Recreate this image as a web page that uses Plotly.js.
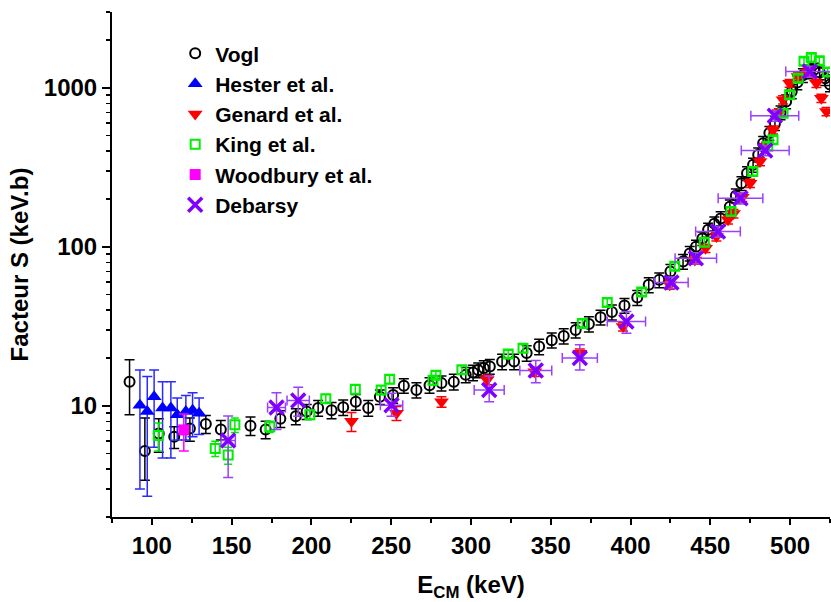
<!DOCTYPE html>
<html>
<head>
<meta charset="utf-8">
<script src="https://cdn.plot.ly/plotly-3.0.1.min.js"></script>
<style>html,body{margin:0;padding:0;background:#fff;}#chart{width:831px;height:602px;}</style>
</head>
<body>
<div id="chart"></div>
<script>
// ---------- Data ----------
const voglE = [86, 95.6, 104.3, 114, 123.8, 133.8, 143.2, 161.8, 171.3, 180.5, 190.2, 197, 204.2, 212.6, 219.9, 227.8, 235.6, 242.9, 251.2, 257.9, 265.8, 274, 281.5, 289.2, 296.7, 301.3, 304.5, 308, 311.8, 319.5, 327, 334.9, 342.7, 350.6, 358.1, 365.6, 373.9, 381.2, 388.3, 396.2, 404.2, 411.4, 418, 425, 432.9, 437.1, 441, 445, 448.6, 452.5, 456.5, 462.2, 466, 469.5, 473, 476.8, 480, 483.1, 487, 490.5, 494, 497.5, 501, 504.5, 508, 511.5, 515, 518.5, 522, 525];
const voglS = [14.2, 5.2, 6.7, 6.4, 7.2, 7.7, 7.1, 7.5, 7.1, 8.3, 8.6, 9.2, 9.7, 9.4, 9.8, 10.6, 9.7, 11.4, 11.7, 13.4, 12.6, 13.5, 13.9, 14.2, 15.7, 16.2, 16.8, 17.3, 17.7, 19.0, 19.0, 21.5, 23.6, 25.9, 27.5, 30.0, 32.7, 36.1, 38.9, 42.8, 48, 57.7, 62, 70, 81, 91, 100, 113, 128, 140, 151, 179, 210, 251, 290, 328, 380, 449, 520, 600, 700, 820, 950, 1080, 1200, 1270, 1300, 1250, 1150, 1050];
const voglErrUp = [5.3, 3.2, 1.6, 1.0, 1.2, 1.0, 1.0, 1.0, 0.9, 1.0, 1.0, 1.0, 1.1, 1.1, 1.1, 1.2, 1.1, 1.2, 1.3, 1.4, 1.4, 1.5, 1.5, 1.6, 1.7, 1.8, 1.8, 1.9, 1.9, 2.1, 2.1, 2.4, 2.6, 2.8, 3.0, 3.3, 3.6, 3.9, 4.2, 4.6, 5.2, 6.2, 6.6, 7.5, 8.6, 9.5, 10, 11, 13, 14, 15, 18, 21, 25, 29, 33, 38, 45, 52, 60, 70, 82, 95, 108, 120, 127, 130, 125, 115, 105];
const voglErrDn = [5.4, 1.8, 1.6, 1.0, 1.2, 1.0, 1.0, 1.0, 0.9, 1.0, 1.0, 1.0, 1.1, 1.1, 1.1, 1.2, 1.1, 1.2, 1.3, 1.4, 1.4, 1.5, 1.5, 1.6, 1.7, 1.8, 1.8, 1.9, 1.9, 2.1, 2.1, 2.4, 2.6, 2.8, 3.0, 3.3, 3.6, 3.9, 4.2, 4.6, 5.2, 6.2, 6.6, 7.5, 8.6, 9.5, 10, 11, 13, 14, 15, 18, 21, 25, 29, 33, 38, 45, 52, 60, 70, 82, 95, 108, 120, 127, 130, 125, 115, 105];

const hesterE = [92.5, 97.1, 101.4, 106.7, 111.9, 115.9, 121.3, 125.5, 129.6];
const hesterS = [10.1, 9.2, 11.4, 9.7, 9.7, 8.8, 9.2, 9.4, 9.0];
const hesterErrUp = [6.7, 6.1, 5.4, 4.5, 4.5, 2.4, 2.4, 2.7, 2.2];
const hesterErrDn = [7.1, 6.5, 5.9, 5.0, 5.0, 2.7, 3.1, 3.0, 2.4];

const genardE = [225.1, 253.3, 281.5, 310.1, 340, 368.2, 395.3, 424.6, 440.3, 447, 453.8, 461.1, 464.5, 470, 474.9, 481.1, 485, 489.3, 493, 495.6, 499.7, 505, 511, 516.5, 519.6, 522.8];
const genardS = [8.0, 9.0, 10.6, 14.6, 16.4, 21.4, 31.6, 57.7, 82.8, 98, 116, 148, 162, 205, 251, 344, 430, 544, 700, 841, 1070, 1180, 1260, 1070, 860, 710];
const genardErr = [1.1, 0.9, 0.8, 1.0, 1.1, 1.4, 2.0, 3.5, 5, 6, 7, 9, 10, 12, 15, 20, 25, 32, 40, 50, 60, 70, 75, 64, 52, 43];

const kingE = [104, 139.7, 147.8, 152, 173.9, 199, 209, 227.5, 243.7, 249, 276.2, 278, 294.3, 323.3, 332.6, 369.8, 385.4, 407, 427.7, 446.2, 463, 476.6, 486, 489.3, 495.6, 499.7, 505, 508.7, 513.3, 518.3, 523.5];
const kingS = [6.5, 5.4, 4.9, 7.6, 7.4, 8.8, 11.1, 12.7, 12.6, 14.7, 14.5, 15.6, 16.9, 21.2, 23.0, 33.0, 44.7, 52, 75.5, 107, 167, 298, 430, 471, 692, 904, 1150, 1470, 1550, 1480, 1260];
const kingErr = [1.3, 0.6, 0.6, 0.8, 0.6, 0.6, 0.7, 0.8, 0.8, 0.9, 0.9, 0.9, 1.0, 1.2, 1.3, 1.8, 2.4, 2.8, 4, 6, 9, 16, 23, 25, 37, 48, 61, 78, 82, 78, 67];

const woodE = [120];
const woodS = [7.06];
const woodErrUp = [1.84];
const woodErrDn = [1.86];

const debE = [147.8, 178.1, 191.7, 250.2, 311.4, 340.6, 368.2, 397.4, 425.6, 440.9, 454.8, 468.9, 484.4, 490.4, 512.3];
const debS = [6.05, 9.75, 10.8, 10.1, 12.6, 16.7, 20.0, 33.9, 59.7, 84.9, 125, 202, 404, 667, 1268];
const debErrX = [4.5, 5.6, 7, 7, 9.4, 10, 11, 12, 10.5, 13, 14, 14, 15, 15, 15];
const debErrUp = [2.6, 2.35, 2.3, 1.9, 2.8, 2.6, 4.2, 5.3, 5, 7, 10, 16, 30, 50, 100];
const debErrDn = [2.5, 2.65, 2.2, 1.5, 2.0, 2.7, 3.2, 5.3, 5, 7, 10, 16, 30, 50, 100];

const legendNames = ['Vogl', 'Hester et al.', 'Genard et al.', 'King et al.', 'Woodbury et al.', 'Debarsy'];
const xTitle = 'E<sub>CM</sub> (keV)';
const yTitle = 'Facteur S (keV.b)';

// ---------- Traces ----------
const FONT = 'Arial, "Liberation Sans", sans-serif';
const traces = [
  {x: voglE, y: voglS, name: legendNames[0], mode: 'markers', type: 'scatter',
   marker: {symbol: 'circle-open', size: 10, color: 'black', line: {width: 2, color: 'black'}},
   error_y: {type: 'data', symmetric: false, array: voglErrUp, arrayminus: voglErrDn, color: 'black', thickness: 1.5, width: 5}},
  {x: hesterE, y: hesterS, name: legendNames[1], mode: 'markers', type: 'scatter',
   marker: {symbol: 'triangle-up', size: 13, color: '#0000ff'},
   error_y: {type: 'data', symmetric: false, array: hesterErrUp, arrayminus: hesterErrDn, color: '#2a2aff', thickness: 1.5, width: 5}},
  {x: genardE, y: genardS, name: legendNames[2], mode: 'markers', type: 'scatter',
   marker: {symbol: 'triangle-down', size: 13, color: '#ff0000'},
   error_y: {type: 'data', array: genardErr, color: '#ff0000', thickness: 1.5, width: 5}},
  {x: kingE, y: kingS, name: legendNames[3], mode: 'markers', type: 'scatter',
   marker: {symbol: 'square-open', size: 9, color: '#00ee00', line: {width: 2, color: '#00ee00'}},
   error_y: {type: 'data', array: kingErr, color: '#00ee00', thickness: 1.5, width: 4}},
  {x: woodE, y: woodS, name: legendNames[4], mode: 'markers', type: 'scatter',
   marker: {symbol: 'square', size: 11, color: '#ff00ff'},
   error_y: {type: 'data', symmetric: false, array: woodErrUp, arrayminus: woodErrDn, color: '#ff00ff', thickness: 1.5, width: 5}},
  {x: debE, y: debS, name: legendNames[5], mode: 'markers', type: 'scatter',
   marker: {symbol: 'x-thin-open', size: 14, color: '#8000ff', line: {width: 3.5, color: '#8000ff'}},
   error_x: {type: 'data', array: debErrX, color: '#9a40ff', thickness: 1.5, width: 5},
   error_y: {type: 'data', symmetric: false, array: debErrUp, arrayminus: debErrDn, color: '#9a40ff', thickness: 1.5, width: 5}}
];

const tickFont = {family: FONT, size: 24, color: 'black', weight: 'bold'};
const layout = {
  width: 831, height: 602,
  margin: {l: 112, r: 1, t: 12, b: 85},
  paper_bgcolor: 'white', plot_bgcolor: 'white',
  showlegend: true,
  legend: {x: 0.088, y: 0.958, xanchor: 'left', yanchor: 'top', bgcolor: 'rgba(0,0,0,0)',
           font: {family: FONT, size: 21, color: 'black', weight: 'bold'}},
  xaxis: {range: [75, 525], showgrid: false, zeroline: false, showline: true, linewidth: 2, linecolor: 'black',
          ticks: 'outside', ticklen: 6, tickwidth: 2, tickcolor: 'black', dtick: 50, tick0: 0,
          minor: {ticks: 'outside', ticklen: 4, tickwidth: 2, tickcolor: 'black', dtick: 25, showgrid: false},
          tickfont: tickFont,
          title: {text: xTitle, font: {family: FONT, size: 24, color: 'black', weight: 'bold'}, standoff: 18}},
  yaxis: {type: 'log', range: [Math.log10(2), Math.log10(3000)], showgrid: false, zeroline: false, showline: true,
          linewidth: 2, linecolor: 'black', ticks: 'outside', ticklen: 8, tickwidth: 2, tickcolor: 'black',
          tickvals: [10, 100, 1000], ticktext: ['10', '100', '1000'],
          minor: {ticks: 'outside', ticklen: 4, tickwidth: 1.5, tickcolor: 'black', dtick: 'D1', showgrid: false},
          tickfont: tickFont,
          title: {text: yTitle, font: {family: FONT, size: 24, color: 'black', weight: 'bold'}, standoff: 8}},
  xaxis2: {overlaying: 'x', side: 'top', range: [75, 525], showgrid: false, zeroline: false, showline: true,
           linewidth: 2, linecolor: 'black', ticks: 'inside', ticklen: 9, tickwidth: 2, tickcolor: 'black',
           dtick: 50, tick0: 0, showticklabels: false,
           minor: {ticks: 'inside', ticklen: 4, tickwidth: 2, tickcolor: 'black', dtick: 25, showgrid: false}},
  yaxis2: {overlaying: 'y', side: 'right', type: 'log', range: [Math.log10(2), Math.log10(3000)], showgrid: false,
           zeroline: false, showline: true, linewidth: 2, linecolor: 'black', ticks: 'inside', ticklen: 8,
           tickwidth: 2, tickcolor: 'black', tickvals: [10, 100, 1000], showticklabels: false,
           minor: {ticks: 'inside', ticklen: 4, tickwidth: 1.5, tickcolor: 'black', dtick: 'D1', showgrid: false}}
};

Plotly.newPlot('chart', traces, layout, {staticPlot: true, displayModeBar: false});
</script>
</body>
</html>
